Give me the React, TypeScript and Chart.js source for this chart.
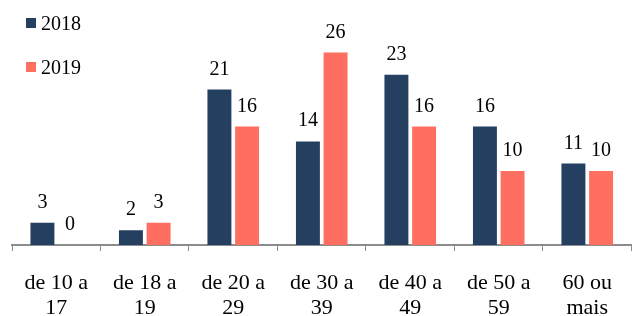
import React, { useEffect, useRef } from "react";
import { Chart, registerables } from "chart.js";

Chart.register(...registerables);

const categories: string[][] = [
  ["de 10 a", "17"],
  ["de 18 a", "19"],
  ["de 20 a", "29"],
  ["de 30 a", "39"],
  ["de 40 a", "49"],
  ["de 50 a", "59"],
  ["60 ou", "mais"],
];
const seriesNames = ["2018", "2019"];
const values2018 = [3, 2, 21, 14, 23, 16, 11];
const values2019 = [0, 3, 16, 26, 16, 10, 10];
const colors = ["#243F60", "#FF6F61"];

const FONT = '"Liberation Serif", "Times New Roman", serif';

const valueLabels = {
  id: "valueLabels",
  afterDatasetsDraw(chart: any) {
    const ctx = chart.ctx;
    ctx.save();
    ctx.font = `20px ${FONT}`;
    ctx.fillStyle = "#000";
    ctx.textAlign = "center";
    ctx.textBaseline = "alphabetic";
    chart.data.datasets.forEach((ds: any, i: number) => {
      const meta = chart.getDatasetMeta(i);
      meta.data.forEach((bar: any, j: number) => {
        ctx.fillText(String(ds.data[j]), bar.x, bar.y - 15);
      });
    });
    ctx.restore();
  },
};

const customLegend = {
  id: "customLegend",
  afterDraw(chart: any) {
    const ctx = chart.ctx;
    ctx.save();
    ctx.font = `20px ${FONT}`;
    ctx.fillStyle = "#000";
    ctx.textAlign = "left";
    ctx.textBaseline = "alphabetic";
    chart.data.datasets.forEach((ds: any, i: number) => {
      const y = 18 + i * 44;
      ctx.fillStyle = ds.backgroundColor;
      ctx.fillRect(26, y, 10, 10);
      ctx.fillStyle = "#000";
      ctx.fillText(ds.label, 41, y + 12);
    });
    ctx.restore();
  },
};

export default function App() {
  const ref = useRef<HTMLCanvasElement>(null);
  useEffect(() => {
    if (!ref.current) return;
    const chart = new Chart(ref.current, {
      type: "bar",
      data: {
        labels: categories,
        datasets: [
          { label: seriesNames[0], data: values2018, backgroundColor: colors[0] },
          { label: seriesNames[1], data: values2019, backgroundColor: colors[1] },
        ],
      },
      options: {
        animation: false,
        responsive: true,
        maintainAspectRatio: false,
        layout: { padding: { left: 12, right: 0, top: 23, bottom: 0 } },
        datasets: {
          bar: { categoryPercentage: 0.625, barPercentage: 0.866 },
        },
        plugins: {
          legend: { display: false },
          tooltip: { enabled: false },
        },
        scales: {
          x: {
            grid: {
              display: true,
              drawOnChartArea: false,
              offset: true,
              tickLength: 6,
              color: "#8C8C8C",
              lineWidth: 1,
            },
            border: { display: true, color: "#8C8C8C", width: 2 },
            ticks: {
              color: "#000",
              font: { family: FONT, size: 22, lineHeight: 1.12 },
              padding: 20,
              maxRotation: 0,
              autoSkip: false,
            },
            afterFit(scale: any) {
              scale.height = 71;
            },
          },
          y: {
            display: false,
            min: 0,
            max: 30,
          },
        },
      },
      plugins: [valueLabels, customLegend],
    });
    return () => chart.destroy();
  }, []);
  return (
    <div style={{ position: "fixed", left: 0, top: 0, width: 632, height: 316, background: "#fff" }}>
      <canvas ref={ref} />
    </div>
  );
}
